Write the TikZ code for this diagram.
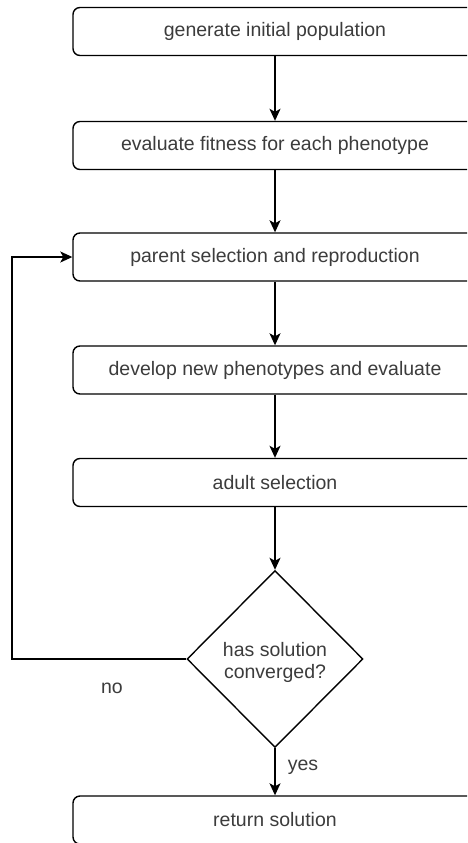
\documentclass[tikz,border=0pt]{standalone}
\usepackage{fontspec}
\setmainfont{Liberation Sans}
\usetikzlibrary{shapes.geometric,arrows.meta}
\definecolor{txt}{HTML}{3C3C3C}
\tikzset{
  procbox/.style={draw=black, line width=1.4pt, rounded corners=7pt, minimum width=404pt, minimum height=48pt, inner sep=0pt, text=txt, font=\fontsize{19.5}{23}\selectfont},
  decbox/.style={draw=black, line width=1.4pt, diamond, minimum width=176pt, minimum height=177pt, inner sep=0pt},
  lbl/.style={text=txt, font=\fontsize{19.5}{23}\selectfont, inner sep=0pt},
  arr/.style={line width=1.4pt, -{Stealth[length=12pt,width=11pt,inset=3pt]}}
}
\begin{document}
\begin{tikzpicture}[x=1pt,y=1pt]
\useasboundingbox (0,0) rectangle (467,-843);
\clip (0,0) rectangle (467,-843);
\fill[white] (0,0) rectangle (467,-843);
\node[procbox] (b1) at (275,-31.5) {generate initial population};
\node[procbox] (b2) at (275,-145.5) {evaluate fitness for each phenotype};
\node[procbox] (b3) at (275,-257) {parent selection and reproduction};
\node[procbox] (b4) at (275,-370) {develop new phenotypes and evaluate};
\node[procbox] (b5) at (275,-482.5) {adult selection};
\node[decbox] (dec) at (275,-659) {};
\node[lbl, align=center] (dect) at (275,-662) {has solution\\[-1pt]converged?};
\node[procbox] (b6) at (275,-820) {return solution};
\coordinate (loopc) at (12,-659);
\node[lbl] (no) at (112,-688) {no};
\node[lbl] (yes) at (303,-767) {yes};
\draw[arr] (b1) -- (b2);
\draw[arr] (b2) -- (b3);
\draw[arr] (b3) -- (b4);
\draw[arr] (b4) -- (b5);
\draw[arr] (b5) -- (dec);
\draw[arr] (dec) -- (b6);
\draw[arr] (dec.west) -- (loopc) |- (b3.west);
\end{tikzpicture}
\end{document}
